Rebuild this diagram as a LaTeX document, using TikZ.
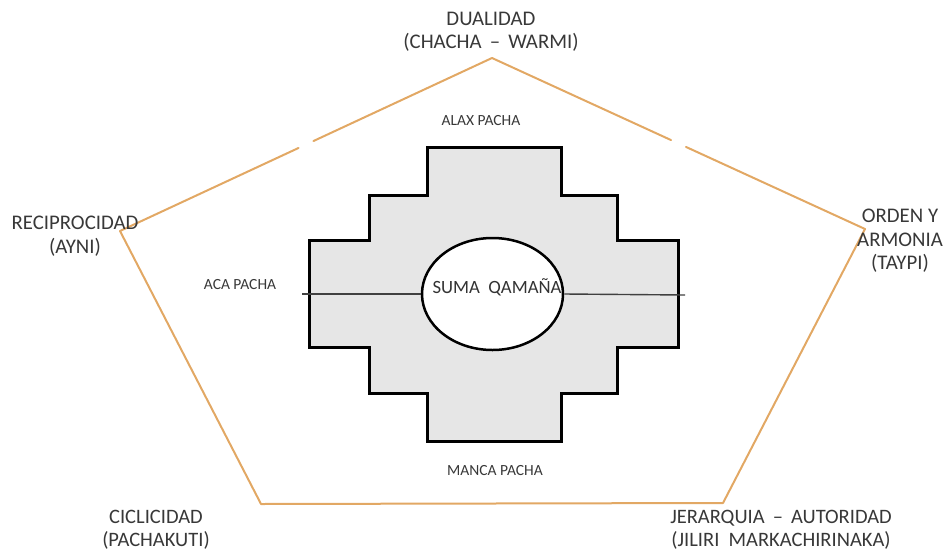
\documentclass[tikz,border=0pt]{standalone}
\usepackage{fontspec}
\setmainfont{Carlito}
\usetikzlibrary{calc,shapes.geometric}
\definecolor{penta}{RGB}{226,168,100}
\definecolor{txt}{RGB}{56,56,56}
\definecolor{chfill}{RGB}{230,230,230}
\begin{document}
\begin{tikzpicture}[x=1pt,y=-1pt,
  bigtxt/.style={text=txt,font=\fontsize{20.8}{23.5}\selectfont,align=center,inner sep=0pt},
  bottxt/.style={text=txt,font=\fontsize{20.5}{22.5}\selectfont,align=center,inner sep=0pt},
  smalltxt/.style={text=txt,font=\fontsize{15.5}{18}\selectfont,inner sep=0pt},
  edge/.style={draw=penta,line width=2pt,line cap=round,line join=round},
  chakana/.style={draw=black,fill=chfill,line width=3pt,line join=miter},
  axis/.style={draw=black!75,line width=1.4pt}]
\useasboundingbox (0,0) rectangle (949,554);
% pentagon vertices
\coordinate (T) at (492,58);
\coordinate (L) at (120,231);
\coordinate (R) at (865,229);
\coordinate (BL) at (261,504);
\coordinate (BR) at (723,503);
\path[edge] (L) -- ($(L)!0.48!(T)$);
\path[edge] ($(L)!0.52!(T)$) -- (T) -- ($(T)!0.48!(R)$);
\path[edge] ($(T)!0.52!(R)$) -- (R) -- (BR) -- (BL) -- (L);
% chakana
\path[chakana] (427,147) -- (561,147) -- (561,195) -- (617,195) -- (617,240) -- (678,240)
  -- (678,347) -- (617,347) -- (617,393) -- (561,393) -- (561,441) -- (427,441)
  -- (427,393) -- (369,393) -- (369,347) -- (309,347) -- (309,240) -- (369,240)
  -- (369,195) -- (427,195) -- cycle;
% axis line and centre
\coordinate (axL) at (302,294);
\coordinate (axR) at (685,295);
\node[draw=black,fill=white,line width=2.5pt,ellipse,minimum width=141pt,minimum height=112pt,inner sep=0pt] (circ) at (492.5,294) {};
\draw[axis] (axL) -- (circ.west);
\draw[axis] (circ.east) -- (axR);
\node[text=black!80,font=\fontsize{18.7}{20}\selectfont,inner sep=0pt] (suma) at (497,287) {SUMA\ \ QAMAÑA};
% labels
\node[bigtxt] (dual) at (491,32) {DUALIDAD\\(CHACHA\, – \,WARMI)};
\node[bigtxt] (recip) at (75,236) {RECIPROCIDAD\\(AYNI)};
\node[bigtxt] (orden) at (900,241) {ORDEN Y\\ARMONIA\\(TAYPI)};
\node[bottxt] (cicl) at (156,530) {CICLICIDAD\\(PACHAKUTI)};
\node[bottxt] (jer) at (781,530) {JERARQUIA\, – \,AUTORIDAD\\(JILIRI\ \ MARKACHIRINAKA)};
\node[smalltxt] (alax) at (481,121) {ALAX PACHA};
\node[smalltxt] (aca) at (240,285) {ACA PACHA};
\node[smalltxt] (manca) at (495,471) {MANCA PACHA};
\end{tikzpicture}
\end{document}
